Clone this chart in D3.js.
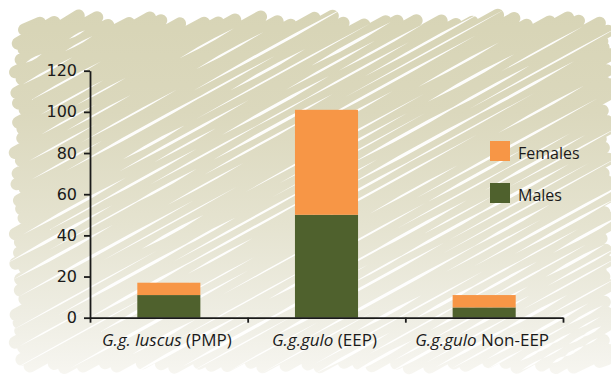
<!DOCTYPE html>
<html>
<head>
<meta charset="utf-8">
<script src="https://cdn.jsdelivr.net/npm/d3@7"></script>
<style>
  html, body { margin: 0; padding: 0; background: #ffffff; }
  svg { display: block; }
</style>
</head>
<body>
<svg id="chart" width="611" height="376"></svg>
<script>
// Wolverine population by studbook programme, split by sex
const categories = ["luscus-PMP", "gulo-EEP", "gulo-NonEEP"];
const labelItalic = ["G.g. luscus", "G.g.gulo", "G.g.gulo"];
const labelPlain = [" (PMP)", " (EEP)", " Non-EEP"];
const males = [11, 50, 5];
const females = [6, 51, 6];
const seriesNames = ["Males", "Females"];
const yTicks = [0, 20, 40, 60, 80, 100, 120];

const colors = { Males: "#4f612d", Females: "#f79646" };
const textColor = "#1a1a1a";

const svg = d3.select("#chart");
const W = 611, H = 376;

// ---- hand-scribbled backdrop ----
const defs = svg.append("defs");
const grad = defs.append("linearGradient")
  .attr("id", "paper")
  .attr("gradientUnits", "userSpaceOnUse")
  .attr("x1", 0).attr("y1", 0).attr("x2", 0).attr("y2", H);
grad.append("stop").attr("offset", 0.0).attr("stop-color", "#d7d4b5");
grad.append("stop").attr("offset", 0.3).attr("stop-color", "#dbd8bd");
grad.append("stop").attr("offset", 0.6).attr("stop-color", "#e5e3d0");
grad.append("stop").attr("offset", 0.85).attr("stop-color", "#efeee4");
grad.append("stop").attr("offset", 1.0).attr("stop-color", "#f7f6f1");

const slope = 0.55;
const box = { x0: 20, x1: 606, y0: 21, y1: 365 };
const step = 10;
let scribble = "";
const gaps = [];
let i = 0;
for (let b = box.y0 + slope * box.x0; b <= box.y1 + slope * box.x1; b += step, i++) {
  let xa = Math.max(box.x0, (b - box.y1) / slope);
  let xb = Math.min(box.x1, (b - box.y0) / slope);
  if (xb - xa < 4) continue;
  let ya = b - slope * xa;
  let yb = b - slope * xb;
  // wobble the ends so the edges look hand drawn
  const ea = 4 * Math.sin(i * 2.31) + 2 * Math.sin(i * 0.77);
  const eb = 4 * Math.sin(i * 1.93 + 1) + 2 * Math.sin(i * 0.53);
  xa += ea; ya -= ea * slope;
  xb += eb; yb -= eb * slope;
  yb += 3.2 * Math.sin(i * 1.37 + 0.4);
  ya += 1.5 * Math.sin(i * 0.91);
  scribble += `M${xa.toFixed(1)},${ya.toFixed(1)}L${xb.toFixed(1)},${yb.toFixed(1)}`;
  gaps.push({ i, b: b + step / 2, xa: xa + 10, xb: xb - 10 });
}
svg.append("path")
  .attr("d", scribble)
  .attr("fill", "none")
  .attr("stroke", "url(#paper)")
  .attr("stroke-width", 12.5)
  .attr("stroke-linecap", "round");

// thin tapered slivers of paper showing between the pen strokes
const ux = 1 / Math.sqrt(1 + slope * slope), uy = -slope * ux;
let slivers = "";
gaps.forEach(g => {
  const span = g.xb - g.xa;
  if (span < 40) return;
  const pieces = 2 + Math.round(1 + 1 * Math.sin(g.i * 0.63));
  for (let p = 0; p < pieces; p++) {
    const t = (p + 0.5 + 0.3 * Math.sin(g.i * 2.7 + p * 1.9)) / pieces;
    const cx = g.xa + span * t;
    const cy = g.b - slope * cx;
    // top-left corner is inked more densely
    const dense = (cx < 260 && cy < 120) || (cx < 120 && cy < 200);
    if (dense && Math.sin(g.i * 3.3 + p * 2.1) < 0.5) continue;
    let L = 70 + 140 * (0.5 + 0.5 * Math.sin(g.i * 1.9 + p * 2.6));
    L = Math.min(L, span / pieces * 1.3);
    const w = 1.4 + 1.8 * (0.5 + 0.5 * Math.sin(g.i * 3.1 + p * 1.3));
    const ax = cx - ux * L / 2, ay = cy - uy * L / 2;
    const bx = cx + ux * L / 2, by = cy + uy * L / 2;
    const px = -uy * w / 2, py = ux * w / 2;
    const q1x = cx - ux * L * 0.15, q1y = cy - uy * L * 0.15;
    const q2x = cx + ux * L * 0.15, q2y = cy + uy * L * 0.15;
    slivers += `M${ax.toFixed(1)},${ay.toFixed(1)}` +
      `L${(q1x + px).toFixed(1)},${(q1y + py).toFixed(1)}` +
      `L${(q2x + px).toFixed(1)},${(q2y + py).toFixed(1)}` +
      `L${bx.toFixed(1)},${by.toFixed(1)}` +
      `L${(q2x - px).toFixed(1)},${(q2y - py).toFixed(1)}` +
      `L${(q1x - px).toFixed(1)},${(q1y - py).toFixed(1)}Z`;
  }
});
svg.append("path")
  .attr("d", slivers)
  .attr("fill", "#ffffff")
  .attr("fill-opacity", 0.95);

// ---- chart ----
const plot = { left: 90, right: 563, top: 70.7, bottom: 317.7 };

const y = d3.scaleLinear().domain([0, 120]).range([plot.bottom, plot.top]);
const x = d3.scaleBand().domain(categories)
  .range([plot.left, plot.right])
  .paddingInner(0.6).paddingOuter(0.3);

const rows = categories.map((c, k) => ({ key: c, Males: males[k], Females: females[k] }));
const stacked = d3.stack().keys(seriesNames)(rows);

svg.append("g").selectAll("g")
  .data(stacked)
  .join("g")
  .attr("fill", d => colors[d.key])
  .selectAll("rect")
  .data(d => d)
  .join("rect")
  .attr("x", d => x(d.data.key))
  .attr("width", x.bandwidth())
  .attr("y", d => y(d[1]))
  .attr("height", d => y(d[0]) - y(d[1]));

// y axis
const yAxis = svg.append("g")
  .attr("transform", `translate(${plot.left},0)`)
  .call(d3.axisLeft(y).tickValues(yTicks).tickSize(6).tickSizeOuter(0).tickPadding(7));
yAxis.select(".domain").attr("stroke", textColor).attr("stroke-width", 1.8);
yAxis.selectAll(".tick line").attr("stroke", textColor).attr("stroke-width", 1.8);
yAxis.selectAll(".tick text")
  .attr("fill", textColor)
  .style("font-family", "'DejaVu Sans', sans-serif")
  .style("font-size", "16px");

// x axis: ticks sit on the boundaries between groups
const xEdges = d3.scaleLinear().domain([0, categories.length]).range([plot.left, plot.right]);
const xAxis = svg.append("g")
  .attr("transform", `translate(0,${plot.bottom})`)
  .call(d3.axisBottom(xEdges).tickValues(d3.range(categories.length + 1))
    .tickSize(5).tickSizeOuter(0).tickFormat(""));
xAxis.select(".domain").attr("stroke", textColor).attr("stroke-width", 1.8);
xAxis.selectAll(".tick line").attr("stroke", textColor).attr("stroke-width", 1.8);

// category labels, species name in italics
const xl = svg.append("g")
  .selectAll("text")
  .data(categories)
  .join("text")
  .attr("x", d => x(d) + x.bandwidth() / 2 - 2)
  .attr("y", 346)
  .attr("text-anchor", "middle")
  .attr("fill", textColor)
  .style("font-family", "'Open Sans', sans-serif")
  .style("font-size", "17px");
xl.append("tspan").style("font-style", "italic").text((d, k) => labelItalic[k]);
xl.append("tspan").text((d, k) => labelPlain[k]);

// legend
const legendItems = ["Females", "Males"];
const lg = svg.append("g")
  .selectAll("g")
  .data(legendItems)
  .join("g")
  .attr("transform", (d, k) => `translate(490,${141 + k * 42})`);
lg.append("rect").attr("width", 20).attr("height", 20).attr("fill", d => colors[d]);
lg.append("text")
  .attr("x", 28).attr("y", 18)
  .attr("fill", textColor)
  .style("font-family", "'Open Sans', sans-serif")
  .style("font-size", "16px")
  .text(d => d);
</script>
</body>
</html>
